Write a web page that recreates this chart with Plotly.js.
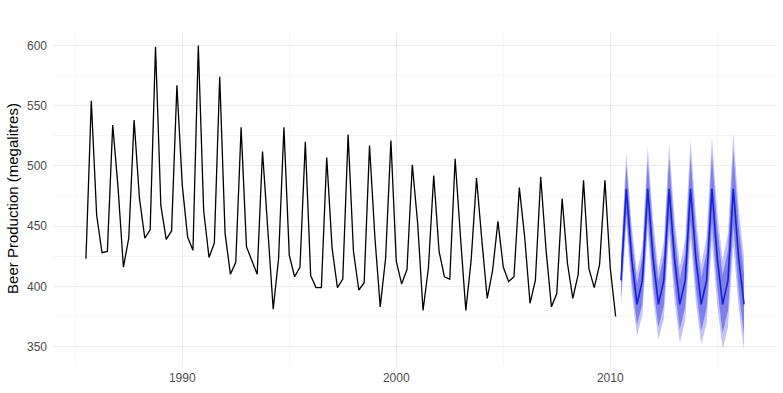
<!DOCTYPE html>
<html>
<head>
<meta charset="utf-8">
<script src="https://cdn.plot.ly/plotly-3.0.1.min.js"></script>
<style>
  html, body { margin: 0; padding: 0; background: #ffffff; }
  #chart { width: 783px; height: 393px; }
</style>
</head>
<body>
<div id="chart"></div>
<script>
// ---- Data (quarterly beer production, megalitres) ----
const startYear = 1985;
const startQuarter = 3;   // first observation: 1985 Q3

const beerObserved = [
  423, 554, 459, 428, 429, 534, 482, 416, 440, 538,
  473, 440, 447, 599, 467, 439, 446, 567, 484, 441,
  430, 600, 463, 424, 436, 574, 444, 410, 420, 532,
  433, 422, 410, 512, 446, 381, 423, 532, 426, 408,
  416, 520, 409, 399, 399, 507, 432, 399, 406, 526,
  429, 397, 403, 517, 441, 383, 423, 521, 421, 402,
  414, 501, 452, 380, 415, 492, 429, 408, 406, 506,
  441, 380, 422, 490, 438, 390, 413, 454, 416, 404,
  408, 482, 441, 386, 405, 491, 430, 383, 394, 473,
  419, 390, 410, 488, 415, 399, 418, 488, 415, 375
];

// Forecast: 2010 Q3 - 2016 Q2
const fcStartYear = 2010;
const fcStartQuarter = 3;
const fcMean = [
  405, 481, 423, 385, 405, 481, 423, 385, 405, 481, 423, 385,
  405, 481, 423, 385, 405, 481, 423, 385, 405, 481, 423, 385
];
const lo80 = [
  391, 461, 405, 368, 386, 458, 402, 366, 384, 456, 401, 364,
  383, 454, 399, 363, 382, 453, 398, 361, 380, 451, 396, 360
];
const hi80 = [
  419, 501, 441, 402, 424, 504, 444, 404, 426, 506, 445, 406,
  427, 508, 447, 407, 428, 509, 449, 409, 430, 512, 450, 410
];
const lo95 = [
  384, 451, 395, 359, 376, 446, 392, 356, 373, 443, 389, 353,
  371, 440, 387, 352, 369, 438, 384, 348, 366, 434, 382, 347
];
const hi95 = [
  426, 511, 451, 411, 434, 516, 455, 414, 437, 519, 457, 417,
  439, 522, 459, 418, 441, 524, 462, 422, 444, 528, 465, 424
];

const xTickVals = [1990, 2000, 2010];
const xMinorVals = [1985, 1995, 2005, 2015];
const yTickVals = [350, 400, 450, 500, 550, 600];
const yMinorVals = [375, 425, 475, 525, 575];

// time index (decimal year of each quarter)
function quarterTimes(y0, q0, n) {
  const out = [];
  for (let k = 0; k < n; k++) {
    const idx = (q0 - 1) + k;
    out.push(y0 + Math.floor(idx / 4) + (idx % 4) / 4);
  }
  return out;
}
const xObs = quarterTimes(startYear, startQuarter, beerObserved.length);
const xFc = quarterTimes(fcStartYear, fcStartQuarter, fcMean.length);

const traces = [
  { x: xFc, y: lo95, type: 'scatter', mode: 'lines', line: { width: 0, color: 'rgba(0,0,0,0)' },
    hoverinfo: 'skip', showlegend: false },
  { x: xFc, y: hi95, type: 'scatter', mode: 'lines', line: { width: 0, color: 'rgba(0,0,0,0)' },
    fill: 'tonexty', fillcolor: '#c3c3f6', hoverinfo: 'skip', showlegend: false },
  { x: xFc, y: lo80, type: 'scatter', mode: 'lines', line: { width: 0, color: 'rgba(0,0,0,0)' },
    hoverinfo: 'skip', showlegend: false },
  { x: xFc, y: hi80, type: 'scatter', mode: 'lines', line: { width: 0, color: 'rgba(0,0,0,0)' },
    fill: 'tonexty', fillcolor: '#7f7fee', hoverinfo: 'skip', showlegend: false },
  { x: xFc, y: fcMean, type: 'scatter', mode: 'lines', line: { width: 1.6, color: '#1322d2' },
    showlegend: false },
  { x: xObs, y: beerObserved, type: 'scatter', mode: 'lines', line: { width: 1.3, color: '#000000' },
    showlegend: false }
];

const tickFont = { family: '"Liberation Sans", Arial, sans-serif', size: 12, color: '#4d4d4d' };

const layout = {
  width: 783,
  height: 393,
  margin: { l: 53, r: 6, t: 31, b: 27, pad: 0 },
  paper_bgcolor: '#ffffff',
  plot_bgcolor: '#ffffff',
  showlegend: false,
  font: { family: '"Liberation Sans", Arial, sans-serif' },
  xaxis: {
    range: [1983.96, 2017.79],
    tickmode: 'array',
    tickvals: xTickVals,
    ticktext: xTickVals.map(String),
    ticks: '',
    showline: false,
    zeroline: false,
    showgrid: true,
    gridcolor: '#ebebeb',
    gridwidth: 1.1,
    tickfont: tickFont,
    ticklabelstandoff: 3,
    minor: { tickmode: 'array', tickvals: xMinorVals, showgrid: true, gridcolor: '#f3f3f3', gridwidth: 0.8, ticks: '' }
  },
  yaxis: {
    range: [333.9, 612],
    tickmode: 'array',
    tickvals: yTickVals,
    ticktext: yTickVals.map(String),
    ticks: '',
    showline: false,
    zeroline: false,
    showgrid: true,
    gridcolor: '#ebebeb',
    gridwidth: 1.1,
    tickfont: tickFont,
    ticklabelstandoff: 5,
    minor: { tickmode: 'array', tickvals: yMinorVals, showgrid: true, gridcolor: '#f3f3f3', gridwidth: 0.8, ticks: '' },
    title: { text: 'Beer Production (megalitres)', font: { size: 15, color: '#000000' }, standoff: 4 }
  }
};

Plotly.newPlot('chart', traces, layout, { staticPlot: true, displayModeBar: false });
</script>
</body>
</html>
